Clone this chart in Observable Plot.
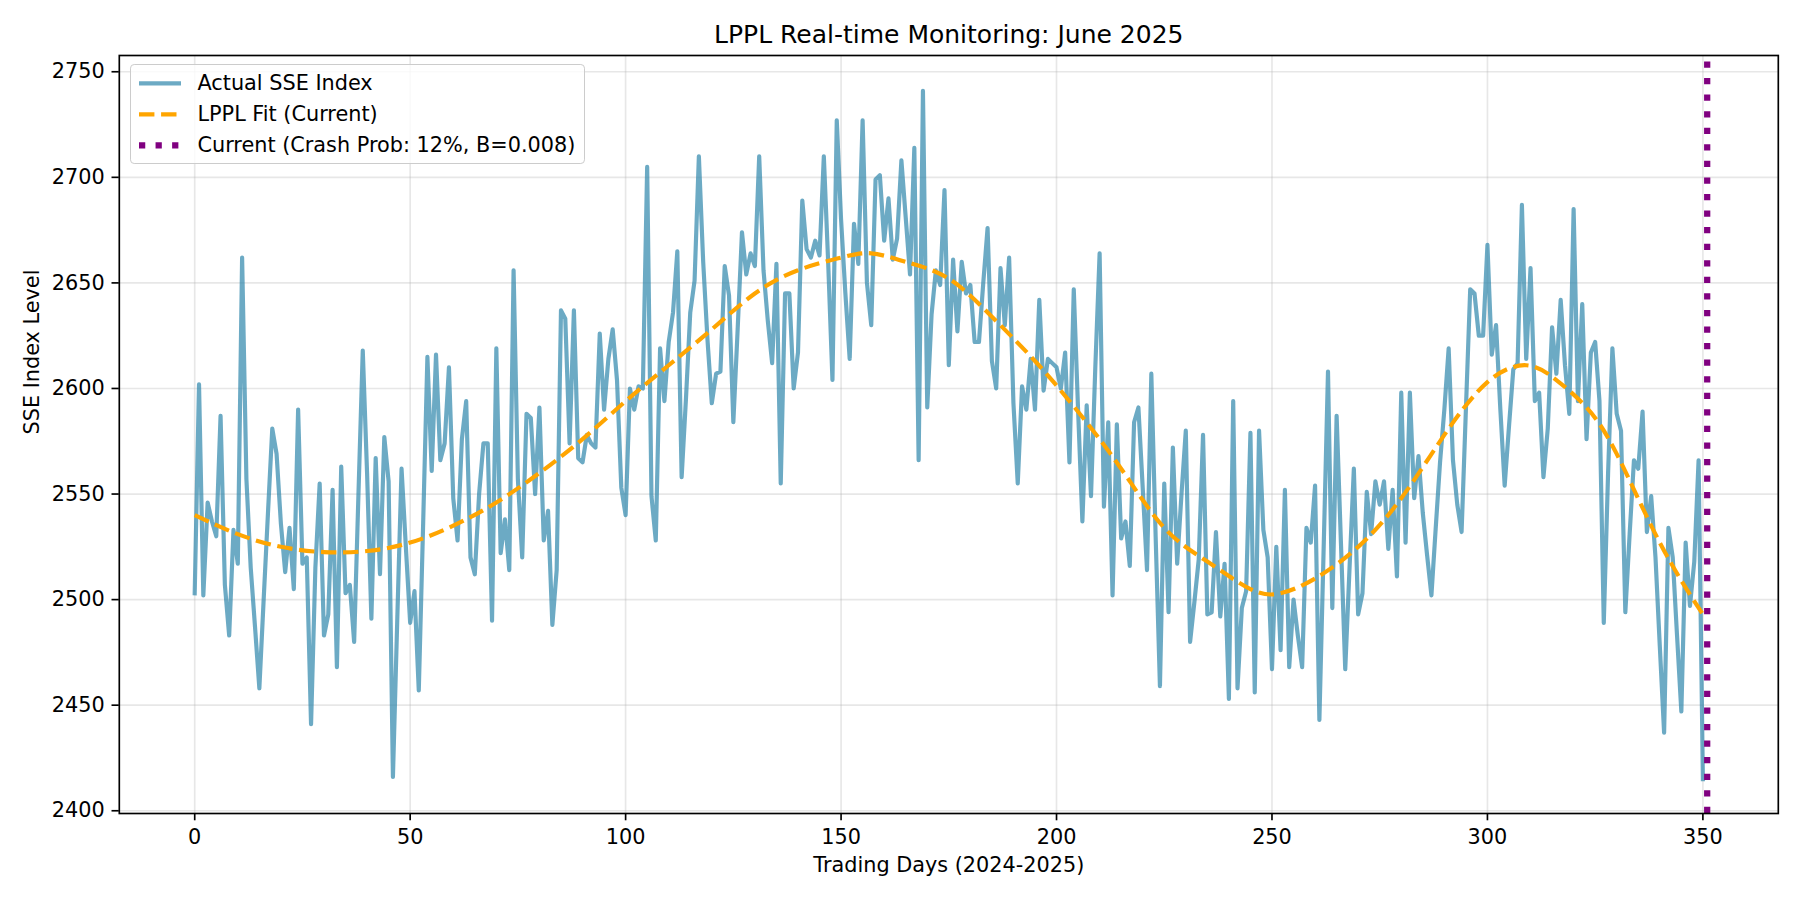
<!DOCTYPE html>
<html>
<head>
<meta charset="utf-8">
<script src="https://cdn.jsdelivr.net/npm/d3@7"></script>
<script src="https://cdn.jsdelivr.net/npm/@observablehq/plot@0.6"></script>
<style>
  html, body { margin: 0; padding: 0; background: white; }
  #chart { position: relative; width: 1800px; height: 900px; font-family: "DejaVu Sans", sans-serif; }
  #legend {
    position: absolute; box-sizing: border-box;
    left: 129.8px; top: 64.4px;
    padding: 7.5px 8.3px 7.5px 8.3px;
    border: 1.6px solid #cccccc; border-radius: 4.2px;
    background: rgba(255, 255, 255, 0.8);
    font: 20.8px "DejaVu Sans", sans-serif; color: #000;
  }
  #legend .row { display: flex; align-items: center; height: 20.6px; line-height: 20.6px; white-space: nowrap; }
  #legend .row + .row { margin-top: 10.4px; }
  #legend svg { display: block; margin-right: 16.7px; }
</style>
</head>
<body>
<div id="chart"></div>
<script>
// Daily SSE index closes, trading days 0..350
const prices = [
  2503, 2602, 2502, 2546, 2537, 2530, 2587, 2507, 2483, 2533,
  2517, 2662, 2557, 2515, 2487, 2458, 2500, 2541, 2581, 2569,
  2536, 2513, 2534, 2505, 2590, 2517, 2520, 2441, 2515, 2555,
  2483, 2493, 2552, 2468, 2563, 2503, 2507, 2480, 2550, 2618,
  2560, 2491, 2567, 2512, 2577, 2556, 2416, 2490, 2562, 2525,
  2489, 2504, 2457, 2535, 2615, 2561, 2616, 2566, 2574, 2610,
  2548, 2528, 2576, 2594, 2520, 2512, 2550, 2574, 2574, 2490,
  2619, 2522, 2538, 2514, 2656, 2557, 2520, 2588, 2586, 2550,
  2591, 2528, 2542, 2488, 2514, 2637, 2633, 2574, 2637, 2567,
  2565, 2578, 2574, 2572, 2626, 2590, 2614, 2628, 2604, 2553,
  2540, 2600, 2590, 2601, 2600, 2705, 2549, 2528, 2619, 2594,
  2622, 2636, 2665, 2558, 2595, 2636, 2651, 2710, 2660, 2623,
  2593, 2607, 2608, 2658, 2644, 2584, 2628, 2674, 2654, 2664,
  2658, 2710, 2656, 2632, 2612, 2659, 2555, 2645, 2645, 2600,
  2617, 2689, 2666, 2662, 2670, 2663, 2710, 2660, 2604, 2727,
  2680, 2645, 2614, 2678, 2659, 2727, 2650, 2630, 2699, 2701,
  2670, 2690, 2661, 2671, 2708, 2681, 2654, 2714, 2566, 2741,
  2591, 2635, 2656, 2649, 2694, 2611, 2661, 2627, 2660, 2645,
  2649, 2622, 2622, 2650, 2676, 2613, 2600, 2657, 2630, 2662,
  2593, 2555, 2601, 2590, 2614, 2590, 2642, 2599, 2614, 2612,
  2610, 2600, 2617, 2565, 2647, 2590, 2537, 2592, 2549, 2610,
  2664, 2544, 2584, 2502, 2583, 2529, 2537, 2516, 2584, 2591,
  2553, 2514, 2607, 2530, 2459, 2555, 2494, 2572, 2517, 2550,
  2580, 2480, 2499, 2519, 2578, 2493, 2494, 2532, 2492, 2517,
  2453, 2594, 2458, 2496, 2504, 2579, 2456, 2580, 2533, 2520,
  2467, 2525, 2476, 2552, 2468, 2500, 2483, 2468, 2534, 2527,
  2554, 2443, 2525, 2608, 2496, 2587, 2527, 2467, 2515, 2562,
  2493, 2503, 2551, 2531, 2556, 2545, 2556, 2524, 2552, 2511,
  2598, 2527, 2598, 2548, 2568, 2541, 2521, 2502, 2534, 2565,
  2590, 2619, 2566, 2545, 2532, 2590, 2647, 2645, 2625, 2625,
  2668, 2616, 2630, 2590, 2554, 2582, 2609, 2612, 2687, 2614,
  2657, 2594, 2598, 2558, 2581, 2629, 2607, 2642, 2611, 2588,
  2685, 2594, 2640, 2576, 2617, 2622, 2594, 2489, 2560, 2619,
  2588, 2580, 2494, 2531, 2566, 2562, 2589, 2532, 2549, 2520,
  2478, 2437, 2534, 2520, 2483, 2447, 2527, 2497, 2518, 2566,
  2415
];

// LPPL fit, sampled along the trading-day axis
const fitDays   = [0, 10, 20, 30, 40, 50, 60, 70, 80, 90, 100, 110, 120, 130, 140, 150, 157, 165, 175, 185,
                   195, 205, 215, 225, 235, 245, 252, 260, 270, 280, 290, 300, 309, 316, 323, 330, 340, 350];
const fitValues = [2540, 2531, 2525, 2522.5, 2523, 2527, 2535, 2546, 2560, 2576, 2594, 2611, 2628, 2645, 2656, 2662, 2664, 2660, 2652, 2634,
                   2613, 2589, 2562, 2534, 2518, 2505, 2503, 2510, 2525, 2548, 2578, 2603, 2611, 2604, 2591, 2569, 2527, 2493];

// Current monitoring position
const currentDay = [351];

const xTicks = [0, 50, 100, 150, 200, 250, 300, 350];
const yTicks = [2400, 2450, 2500, 2550, 2600, 2650, 2700, 2750];

const titleText = "LPPL Real-time Monitoring: June 2025";
const xLabelText = "Trading Days (2024-2025)";
const yLabelText = "SSE Index Level";
const seriesNames = ["Actual SSE Index", "LPPL Fit (Current)", "Current (Crash Prob: 12%, B=0.008)"];
const seriesColors = ["#2E86AB", "orange", "purple"];

const actual = prices.map((v, i) => ({day: i, value: v}));
const fit = fitDays.map((d, i) => ({day: d, value: fitValues[i]}));

const pt = 150 / 72; // points -> pixels
const xDomain = [-17.5, 367.5];
const yDomain = [2398.7, 2757.7];

const styles = {
  actual: {stroke: seriesColors[0], strokeOpacity: 0.7, strokeWidth: 2 * pt, dash: null},
  fit: {stroke: seriesColors[1], strokeOpacity: 1, strokeWidth: 2 * pt, dash: [3.7 * 2 * pt, 1.6 * 2 * pt]},
  current: {stroke: seriesColors[2], strokeOpacity: 1, strokeWidth: 3 * pt, dash: [1 * 3 * pt, 1.65 * 3 * pt]}
};

const chart = Plot.plot({
  width: 1800,
  height: 900,
  marginLeft: 118.8,
  marginRight: 22.2,
  marginTop: 55,
  marginBottom: 87,
  style: {fontFamily: "DejaVu Sans", fontSize: "20.8px", background: "white", color: "black", overflow: "visible"},
  x: {domain: xDomain},
  y: {domain: yDomain},
  marks: [
    Plot.gridX(xTicks, {stroke: "#b0b0b0", strokeOpacity: 0.3, strokeWidth: 0.8 * pt}),
    Plot.gridY(yTicks, {stroke: "#b0b0b0", strokeOpacity: 0.3, strokeWidth: 0.8 * pt}),
    Plot.line(actual, {
      x: "day", y: "value",
      stroke: styles.actual.stroke, strokeOpacity: styles.actual.strokeOpacity,
      strokeWidth: styles.actual.strokeWidth, strokeLinejoin: "round", strokeLinecap: "square"
    }),
    Plot.line(fit, {
      x: "day", y: "value", curve: "natural",
      stroke: styles.fit.stroke, strokeWidth: styles.fit.strokeWidth,
      strokeDasharray: styles.fit.dash.join(","), strokeLinecap: "butt"
    }),
    Plot.ruleX(currentDay, {
      x: d => d, y1: yDomain[0], y2: yDomain[1],
      stroke: styles.current.stroke, strokeWidth: styles.current.strokeWidth,
      strokeDasharray: styles.current.dash.join(","), strokeLinecap: "butt"
    }),
    Plot.frame({stroke: "black", strokeWidth: 0.8 * pt}),
    Plot.axisX(xTicks, {
      tickSize: 3.5 * pt, tickPadding: 8, strokeWidth: 0.8 * pt,
      tickFormat: d => String(d), label: null
    }),
    Plot.axisY(yTicks, {
      tickSize: 3.5 * pt, tickPadding: 3.5 * pt, strokeWidth: 0.8 * pt,
      tickFormat: d => String(d), label: null
    }),
    Plot.text([titleText], {text: d => d, frameAnchor: "top", lineAnchor: "bottom", dy: -12.5, fontSize: 25}),
    Plot.text([xLabelText], {text: d => d, frameAnchor: "bottom", lineAnchor: "bottom", dy: 58}),
    Plot.text([yLabelText], {text: d => d, frameAnchor: "left", rotate: -90, dx: -87})
  ]
});

const container = document.getElementById("chart");
container.appendChild(chart);

// Legend box in the upper-left corner of the axes
const legend = d3.select(container).append("div").attr("id", "legend");
const keys = ["actual", "fit", "current"];
keys.forEach((k, i) => {
  const s = styles[k];
  const row = legend.append("div").attr("class", "row");
  const sw = row.append("svg").attr("width", 41.7).attr("height", 20.6);
  sw.append("line")
    .attr("x1", 0).attr("x2", 41.7).attr("y1", 10.3).attr("y2", 10.3)
    .attr("stroke", s.stroke)
    .attr("stroke-opacity", s.strokeOpacity)
    .attr("stroke-width", s.strokeWidth)
    .attr("stroke-dasharray", s.dash ? s.dash.join(",") : null)
    .attr("stroke-linecap", s.dash ? "butt" : "square");
  row.append("span").text(seriesNames[i]);
});
</script>
</body>
</html>
